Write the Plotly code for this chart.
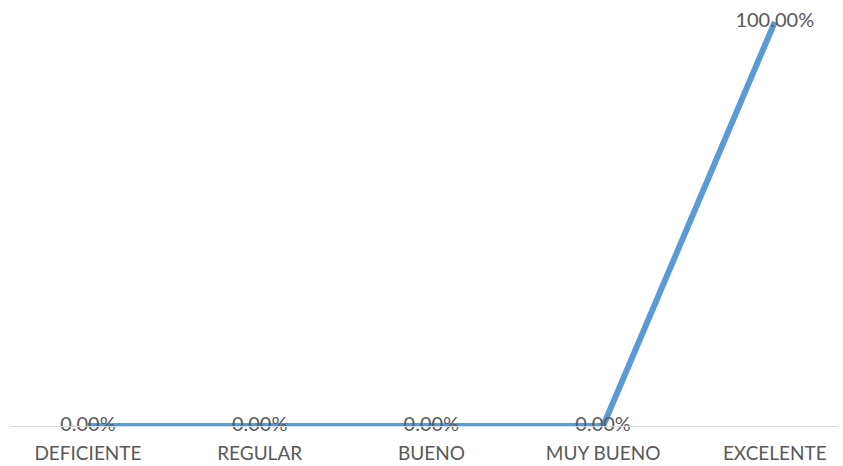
import plotly.graph_objects as go

categories = ["DEFICIENTE", "REGULAR", "BUENO", "MUY BUENO", "EXCELENTE"]
values = [0.0, 0.0, 0.0, 0.0, 1.0]
labels = [f"{v*100:.2f}%" for v in values]

fig = go.Figure()
fig.add_trace(go.Scatter(
    x=categories, y=values, mode="lines+text",
    text=labels, textposition="middle center",
    textfont=dict(family="Lato, sans-serif", size=20, color="#595959"),
    line=dict(color="#5B9BD5", width=6),
    cliponaxis=False, hoverinfo="skip",
))

fig.update_layout(
    width=843, height=466,
    margin=dict(l=10, r=5, t=10, b=40, autoexpand=False),
    paper_bgcolor="white", plot_bgcolor="white",
    showlegend=False,
    font=dict(family="Lato, sans-serif", size=19, color="#595959"),
)
fig.update_xaxes(
    type="category", range=[-0.454, 4.368], automargin=False,
    showgrid=False, zeroline=False,
    showline=True, linecolor="#d9d9d9", linewidth=1,
    ticks="", ticklabelstandoff=10,
    tickfont=dict(family="Lato, sans-serif", size=19, color="#595959"),
)
fig.update_yaxes(
    range=[0, 1.0297], visible=False, showgrid=False, zeroline=False, automargin=False,
)

fig.write_html("out.html", config={"displayModeBar": False},
               post_script="document.body.style.margin='0';")
